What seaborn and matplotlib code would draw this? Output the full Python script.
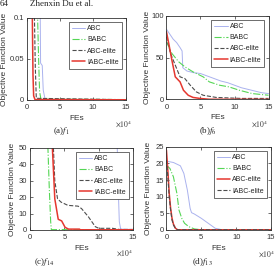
import matplotlib
matplotlib.use("Agg")
import numpy as np
import pandas as pd
import matplotlib.pyplot as plt
import seaborn as sns

sns.set_theme(style="ticks")
plt.rcParams["font.family"] = ["Liberation Sans", "DejaVu Sans"]
plt.rcParams["mathtext.fontset"] = "stix"

# ── Data (FEs in units of 1e4) ───────────────────────────────────────────
# (a) f1
A_ABC_X  = [1.9, 2.0, 2.05, 2.3, 2.45, 2.7, 3.1, 15]
A_ABC_Y  = [1.0, 0.1, 0.045, 0.042, 0.012, 0.002, 0.0005, 0.0003]
A_BABC_X = [1.5, 1.6, 1.75, 1.9, 2.1, 15]
A_BABC_Y = [1.0, 0.1, 0.05, 0.01, 0.001, 0.0005]
A_AE_X   = [1.05, 1.12, 1.25, 1.4, 15]
A_AE_Y   = [1.0, 0.1, 0.04, 0.002, 0.0003]
A_IAE_X  = [0.75, 0.8, 0.9, 1.0, 1.2, 15]
A_IAE_Y  = [1.0, 0.1, 0.03, 0.005, 0.0005, 0.0002]

# (b) f6
B_ABC_X  = [0, 0.5, 1.0, 1.5, 2.0, 2.3, 2.4, 3, 4, 5, 6, 7, 8, 9, 10, 11, 12, 13, 14, 15]
B_ABC_Y  = [84, 78, 72, 68, 62, 58, 38, 34, 32, 31, 28, 25, 22, 20, 17, 14, 12, 10, 8, 7]
B_BABC_X = [0, 0.8, 1.8, 2.7, 3.9, 5.4, 6.3, 7.8, 9.2, 10.7, 12.6, 15]
B_BABC_Y = [69, 55, 45, 39, 33, 27, 21, 17, 15, 11, 7, 5]
B_AE_X   = [0, 0.6, 1.3, 2.0, 2.7, 3.5, 4.4, 5.4, 7.3, 11, 15]
B_AE_Y   = [75, 55, 41, 27, 25, 17, 9, 5, 2.4, 1.2, 1.2]
B_IAE_X  = [0, 0.34, 0.8, 1.3, 2.0, 2.5, 3.2, 3.9, 4.9, 6.3, 15]
B_IAE_Y  = [81, 67, 47, 27, 21, 11, 5, 2.4, 1.2, 0.2, 0.1]

# (c) f14
C_ABC_X  = [12.6, 12.7, 12.85, 13.0, 13.2, 15]
C_ABC_Y  = [80, 50, 25, 5, 0.5, 0.3]
C_BABC_X = [2.5, 2.6, 2.8, 3.0, 3.1, 15]
C_BABC_Y = [80, 50, 25, 5, 0.2, 0.2]
C_AE_X   = [3.4, 3.6, 4.0, 4.5, 5.5, 7.0, 7.5, 8.5, 9.5, 10, 12, 13, 15]
C_AE_Y   = [50, 30, 19, 17, 15, 14.5, 13, 8, 2, 1, 1, 0.3, 0.3]
C_IAE_X  = [3.2, 3.25, 3.6, 4.1, 4.6, 5.1, 5.6, 7.2, 7.3, 15]
C_IAE_Y  = [80, 50, 19, 6.5, 5.5, 1.6, 0.5, 0.5, 0.1, 0.1]

# (d) f13
D_ABC_X  = [0, 1, 2, 2.5, 3.0, 3.4, 3.6, 4, 5, 6, 7, 8, 15]
D_ABC_Y  = [20.7, 20.3, 19.3, 17, 12, 6.5, 5.2, 4.8, 3.5, 2, 0.5, 0.05, 0.05]
D_BABC_X = [0, 0.5, 1.0, 1.5, 1.8, 2.2, 2.6, 3.2, 4, 5, 15]
D_BABC_Y = [19.5, 18.5, 16, 11, 6, 3.5, 2, 1, 0.3, 0.05, 0.05]
D_AE_X   = [0, 0.2, 0.4, 0.6, 0.8, 1.0, 1.3, 1.6, 15]
D_AE_Y   = [24, 18, 11, 6.5, 3.5, 1.8, 0.5, 0.05, 0.05]
D_IAE_X  = [0, 0.2, 0.4, 0.6, 0.8, 1.0, 1.3, 1.6, 15]
D_IAE_Y  = [21, 16, 10, 6, 3, 1.5, 0.4, 0.05, 0.05]

NAMES = ["ABC", "BABC", "ABC-elite", "IABC-elite"]

LIGHT = dict(color="#aab2ee", linestyle="-", linewidth=0.7)
GREEN = dict(color="#55d655", linestyle="-.", linewidth=0.8)
GRAY  = dict(color="#4d4d4d", linestyle="--", linewidth=0.8)
RED   = dict(color="#e5372f", linestyle="-", linewidth=1.1)

PANELS = [
    dict(pos=[0.098, 0.627, 0.359, 0.306], ylim=0.1, yticks=[0, 0.05, 0.1],
         ytl=["0", "0.05", "0.1"],
         series=[(A_ABC_X, A_ABC_Y), (A_BABC_X, A_BABC_Y), (A_AE_X, A_AE_Y), (A_IAE_X, A_IAE_Y)],
         styles=[LIGHT, GREEN, GRAY, RED], ylab=-0.195, mult=(1.06, -0.29),
         cap=(62, 131, r"(a)$f_1$")),
    dict(pos=[0.603, 0.629, 0.370, 0.312], ylim=100, yticks=[0, 50, 100],
         ytl=["0", "50", "100"],
         series=[(B_ABC_X, B_ABC_Y), (B_BABC_X, B_BABC_Y), (B_AE_X, B_AE_Y), (B_IAE_X, B_IAE_Y)],
         styles=[LIGHT, GREEN, GRAY, RED], ylab=-0.15, mult=(1.0, -0.29),
         cap=(208, 131, r"(b)$f_6$")),
    dict(pos=[0.109, 0.142, 0.373, 0.306], ylim=50, yticks=[0, 10, 20, 30, 40, 50],
         ytl=["0", "10", "20", "30", "40", "50"],
         series=[(C_ABC_X, C_ABC_Y), (C_BABC_X, C_BABC_Y), (C_AE_X, C_AE_Y), (C_IAE_X, C_IAE_Y)],
         styles=[LIGHT, GREEN, GRAY, RED], ylab=-0.14, mult=(1.0, -0.28),
         cap=(44, 262, r"(c)$f_{14}$")),
    dict(pos=[0.603, 0.142, 0.379, 0.310], ylim=25, yticks=[0, 5, 10, 15, 20, 25],
         ytl=["0", "5", "10", "15", "20", "25"],
         series=[(D_ABC_X, D_ABC_Y), (D_BABC_X, D_BABC_Y), (D_AE_X, D_AE_Y), (D_IAE_X, D_IAE_Y)],
         styles=[LIGHT, GREEN, RED, GRAY], ylab=-0.135, mult=(1.04, -0.28),
         cap=(202, 262, r"(d)$f_{13}$")),
]

W, H = 276, 268
fig = plt.figure(figsize=(W / 100, H / 100), dpi=100)
fig.patch.set_facecolor("white")

for p in PANELS:
    ax = fig.add_axes(p["pos"])
    for name, (xs, ys), st in zip(NAMES, p["series"], p["styles"]):
        d = pd.DataFrame({"FEs": xs, "val": ys})
        sns.lineplot(data=d, x="FEs", y="val", estimator=None, sort=False,
                     ax=ax, label=name, **st)
    ax.set_xlim(0, 15)
    ax.set_ylim(0, p["ylim"])
    ax.set_xticks([0, 5, 10, 15])
    ax.set_xticklabels(["0", "5", "10", "15"])
    ax.set_yticks(p["yticks"])
    ax.set_yticklabels(p["ytl"])
    ax.tick_params(direction="in", length=2, width=0.5, labelsize=5.5,
                   colors="#333333", pad=2, top=True, right=True)
    ax.tick_params(axis="x", pad=3)
    for s in ax.spines.values():
        s.set_linewidth(0.6)
        s.set_color("#333333")
    ax.set_xlabel("FEs", fontsize=6, color="#333333")
    ax.xaxis.set_label_coords(0.5, -0.18)
    ax.set_ylabel("Objective Function Value", fontsize=6, color="#333333")
    ax.yaxis.set_label_coords(p["ylab"], 0.5)
    ax.text(p["mult"][0], p["mult"][1], r"$\times10^4$", transform=ax.transAxes,
            ha="right", va="center", fontsize=5.5, color="#333333")
    leg = ax.legend(loc="upper right", fontsize=5, frameon=True, fancybox=False,
                    framealpha=1, edgecolor="#333333", handlelength=1.9,
                    handletextpad=0.3, borderpad=0.45, labelspacing=0.6,
                    borderaxespad=0.6)
    leg.get_frame().set_linewidth(0.5)
    cx, cy, ct = p["cap"]
    fig.text(cx / W, 1 - cy / H, ct, ha="center", va="center", fontsize=6.5,
             family="Liberation Serif")

fig.text(0 / W, 1 - 4 / H, "64", ha="left", va="center", fontsize=6.5,
         family="Liberation Serif")
fig.text(30 / W, 1 - 4 / H, "Zhenxin Du et al.", ha="left", va="center",
         fontsize=6.5, family="Liberation Serif")

fig.savefig("out.png", dpi=100)
